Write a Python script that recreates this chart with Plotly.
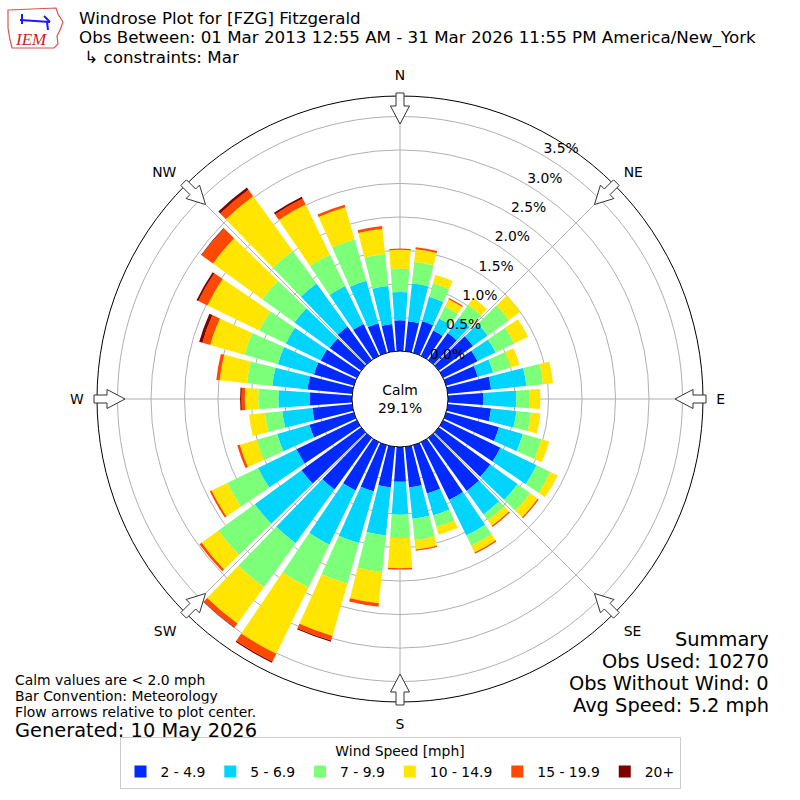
import math
import plotly.graph_objects as go

directions = [0, 10, 20, 30, 40, 50, 60, 70, 80, 90, 100, 110, 120, 130, 140, 150, 160, 170,
              180, 190, 200, 210, 220, 230, 240, 250, 260, 270, 280, 290, 300, 310, 320, 330, 340, 350]

speed_bins = ["2 - 4.9", "5 - 6.9", "7 - 9.9", "10 - 14.9", "15 - 19.9", "20+"]
bin_colors = ["#002aff", "#00d4ff", "#7cff79", "#ffe500", "#ff4800", "#800000"]

pct_2_5 = [0.46, 0.45, 0.49, 0.42, 0.50, 0.63, 0.57, 0.49, 0.65, 0.53, 0.65, 0.82, 0.95, 0.95, 0.98, 0.96, 0.75, 0.61,
           0.52, 0.61, 0.72, 0.80, 0.95, 1.10, 1.00, 0.69, 0.60, 0.63, 0.67, 0.62, 0.60, 0.58, 0.62, 0.53, 0.46, 0.41]
pct_5_7 = [0.42, 0.57, 0.38, 0.20, 0.28, 0.27, 0.30, 0.24, 0.53, 0.49, 0.38, 0.37, 0.60, 0.50, 0.43, 0.59, 0.34, 0.47,
           0.49, 0.72, 0.80, 0.90, 0.99, 0.86, 0.64, 0.50, 0.45, 0.47, 0.53, 0.56, 0.58, 0.65, 0.79, 0.63, 0.66, 0.57]
pct_7_10 = [0.35, 0.32, 0.21, 0.20, 0.24, 0.39, 0.31, 0.27, 0.25, 0.20, 0.22, 0.29, 0.23, 0.23, 0.11, 0.17, 0.18, 0.32,
            0.35, 0.55, 0.63, 0.71, 0.81, 0.67, 0.51, 0.32, 0.26, 0.30, 0.38, 0.52, 0.44, 0.59, 0.60, 0.52, 0.64, 0.48]
pct_10_15 = [0.28, 0.19, 0.13, 0.12, 0.13, 0.21, 0.23, 0.14, 0.15, 0.16, 0.14, 0.12, 0.12, 0.14, 0.10, 0.11, 0.12, 0.14,
             0.45, 0.47, 0.81, 1.10, 0.67, 0.31, 0.26, 0.26, 0.24, 0.20, 0.41, 0.53, 0.86, 0.91, 1.01, 0.83, 0.50, 0.38]
pct_15_20 = [0.02, 0.03, 0.00, 0.02, 0.00, 0.00, 0.00, 0.00, 0.00, 0.00, 0.00, 0.00, 0.00, 0.02, 0.02, 0.02, 0.00, 0.02,
             0.02, 0.05, 0.07, 0.13, 0.07, 0.04, 0.03, 0.04, 0.00, 0.05, 0.05, 0.12, 0.15, 0.21, 0.12, 0.10, 0.04, 0.04]
pct_20p = [0.00, 0.00, 0.00, 0.00, 0.00, 0.00, 0.00, 0.00, 0.00, 0.00, 0.00, 0.00, 0.00, 0.00, 0.00, 0.00, 0.00, 0.00,
           0.00, 0.00, 0.02, 0.02, 0.01, 0.00, 0.00, 0.00, 0.00, 0.02, 0.00, 0.05, 0.03, 0.01, 0.04, 0.03, 0.00, 0.00]

series = [pct_2_5, pct_5_7, pct_7_10, pct_10_15, pct_15_20, pct_20p]

compass_vals = [0, 45, 90, 135, 180, 225, 270, 315]
compass_text = ["N", "NE", "E", "SE", "S", "SW", "W", "NW"]
radial_ticks = [0.0, 0.5, 1.0, 1.5, 2.0, 2.5, 3.0, 3.5]

calm_text = "Calm<br>29.1%"
title_lines = ["Windrose Plot for [FZG] Fitzgerald",
               "Obs Between: 01 Mar 2013 12:55 AM - 31 Mar 2026 11:55 PM America/New_York",
               " \u21b3 constraints: Mar"]
notes = ["Calm values are < 2.0 mph", "Bar Convention: Meteorology", "Flow arrows relative to plot center."]
generated = "Generated: 10 May 2026"
summary = ["Summary", "Obs Used: 10270", "Obs Without Wind: 0", "Avg Speed: 5.2 mph"]

FONT = "DejaVu Sans"
W = H = 800
CX, CY, R = 400, 399, 303

fig = go.Figure()
for name, vals, col in zip(speed_bins, series, bin_colors):
    fig.add_trace(go.Barpolar(
        r=vals, theta=directions, name=name, width=8.2,
        marker=dict(color=col, line=dict(width=0)),
    ))


def px(x, y):
    return x / W, 1 - y / H


shapes = []
# flow arrows
for ang in compass_vals:
    th = math.radians(ang)
    ux, uy = math.sin(th), -math.cos(th)
    vx, vy = math.cos(th), math.sin(th)
    pts_local = [(306, -4), (293, -4), (293, -9.5), (275, 0), (293, 9.5), (293, 4), (306, 4)]
    pts = []
    for rr, tt in pts_local:
        x = CX + rr * ux + tt * vx
        y = CY + rr * uy + tt * vy
        pts.append(px(x, y))
    path = "M " + " L ".join(f"{a:.5f},{b:.5f}" for a, b in pts) + " Z"
    shapes.append(dict(type="path", path=path, xref="paper", yref="paper",
                       fillcolor="white", line=dict(color="#333333", width=1), layer="above"))

# simple IEM logo outline
logo = [(8, 10), (56, 8), (58, 14), (63, 22), (60, 30), (57, 36), (58, 44), (54, 48), (12, 48), (10, 40), (8, 28)]
lp = [px(x, y) for x, y in logo]
shapes.append(dict(type="path", path="M " + " L ".join(f"{a:.5f},{b:.5f}" for a, b in lp) + " Z",
                   xref="paper", yref="paper", line=dict(color="#d9534f", width=1.2), fillcolor="white"))
for (x0, y0, x1, y1) in [(20, 20, 50, 22), (22, 14, 22, 24), (44, 16, 50, 22), (47, 22, 48, 30)]:
    a0, b0 = px(x0, y0)
    a1, b1 = px(x1, y1)
    shapes.append(dict(type="line", x0=a0, y0=b0, x1=a1, y1=b1, xref="paper", yref="paper",
                       line=dict(color="#1a1aff", width=2)))

annotations = []
annotations.append(dict(text="<i>IEM</i>", x=px(13, 39)[0], y=px(13, 39)[1], xref="paper", yref="paper",
                        xanchor="left", yanchor="middle", showarrow=False, height=16,
                        font=dict(family="Liberation Serif", size=17, color="#cc2222")))
for i, t in enumerate(title_lines):
    annotations.append(dict(text=t, x=px(78, 0)[0], y=px(0, 17.5 + 19.5 * i)[1], xref="paper", yref="paper",
                            xanchor="left", yanchor="middle", showarrow=False, height=19.4, borderpad=0,
                            font=dict(family=FONT, size=16.7, color="black")))
annotations.append(dict(text=calm_text, x=px(CX, 0)[0], y=px(0, CY)[1], xref="paper", yref="paper",
                        xanchor="center", yanchor="middle", showarrow=False,
                        font=dict(family=FONT, size=13.9, color="black")))
for i, t in enumerate(notes):
    annotations.append(dict(text=t, x=px(14, 0)[0], y=px(0, 680 + 16 * i)[1], xref="paper", yref="paper",
                            xanchor="left", yanchor="middle", showarrow=False, height=15.6, borderpad=0,
                            font=dict(family=FONT, size=13.9, color="black")))
annotations.append(dict(text=generated, x=px(14, 0)[0], y=px(0, 730)[1], xref="paper", yref="paper",
                        xanchor="left", yanchor="middle", showarrow=False, height=21, borderpad=0,
                        font=dict(family=FONT, size=19.4, color="black")))
for i, t in enumerate(summary):
    annotations.append(dict(text=t, x=px(770, 0)[0], y=px(0, 640 + 22 * i)[1], xref="paper", yref="paper",
                            xanchor="right", yanchor="middle", showarrow=False, height=21.6, borderpad=0,
                            font=dict(family=FONT, size=19.4, color="black")))

fig.update_layout(
    width=W, height=H,
    margin=dict(l=0, r=0, t=0, b=0),
    paper_bgcolor="white",
    font=dict(family=FONT, size=13.9, color="black"),
    polar=dict(
        domain=dict(x=[(CX - R) / W, (CX + R) / W], y=[1 - (CY + R) / H, 1 - (CY - R) / H]),
        hole=48 / R,
        bgcolor="white",
        barmode="stack",
        angularaxis=dict(
            direction="clockwise", rotation=90,
            tickmode="array", tickvals=compass_vals, ticktext=compass_text,
            ticks="outside", ticklen=10, tickcolor="rgba(0,0,0,0)",
            showline=True, linecolor="black", linewidth=1,
            showgrid=True, gridcolor="#b0b0b0", gridwidth=1,
            tickfont=dict(family=FONT, size=13.9, color="black"),
            layer="above traces",
        ),
        radialaxis=dict(
            range=[0, (R - 48) / 67], tickmode="array", tickvals=radial_ticks,
            ticktext=[f"{v:.1f}%<br> " for v in radial_ticks],
            angle=61, tickangle=61, showline=False, ticks="",
            showgrid=True, gridcolor="#b0b0b0", gridwidth=1,
            tickfont=dict(family=FONT, size=13.9, color="black"),
            layer="above traces",
        ),
    ),
    legend=dict(
        orientation="h", x=0.5, xanchor="center", y=1 - 789 / H, yanchor="bottom",
        bordercolor="#cccccc", borderwidth=1, bgcolor="white",
        title=dict(text="Wind Speed [mph]", side="top center", font=dict(family=FONT, size=13.9)),
        font=dict(family=FONT, size=13.9), itemwidth=30,
    ),
    shapes=shapes,
    annotations=annotations,
)

fig.write_html("out.html", config={"displayModeBar": False},
               post_script="document.body.style.margin='0px';")
